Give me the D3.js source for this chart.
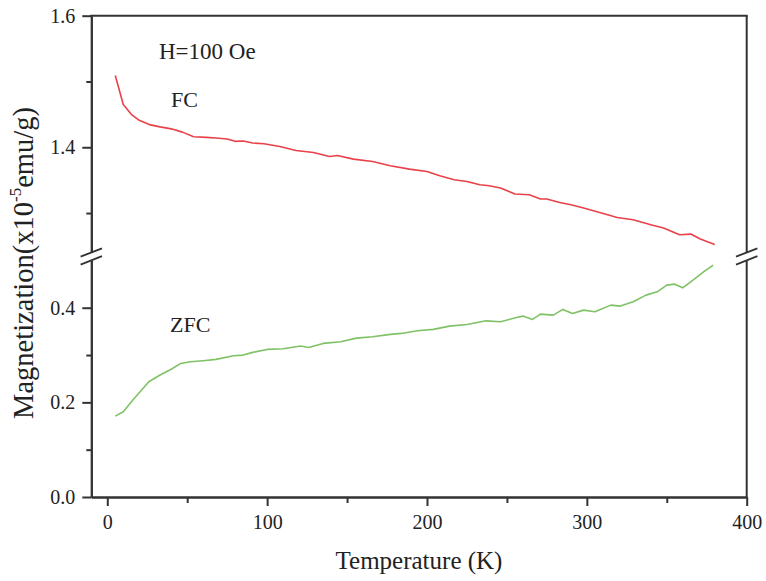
<!DOCTYPE html>
<html>
<head>
<meta charset="utf-8">
<script src="https://cdn.jsdelivr.net/npm/d3@7"></script>
<style>
  html, body { margin: 0; padding: 0; background: #fff; }
  svg { display: block; }
  text { font-family: "Liberation Serif", "Times New Roman", serif; fill: #222; }
</style>
</head>
<body>
<svg id="chart" width="766" height="581"></svg>
<script>
// ---- Data ----
const fcTemp = [5, 10, 15, 20, 27, 33, 40, 47, 54, 62, 68, 75, 80, 85, 91, 98, 108, 118, 129, 139, 144, 154, 166, 177, 189, 200, 208, 217, 225, 233, 239, 246, 255, 264, 271, 275, 283, 290, 298, 308, 319, 329, 340, 348, 358, 365, 371, 380];
const fcMag  = [1.509, 1.465, 1.450, 1.441, 1.434, 1.431, 1.428, 1.423, 1.416, 1.415, 1.414, 1.4125, 1.409, 1.4094, 1.4064, 1.4053, 1.4012, 1.395, 1.392, 1.386, 1.3875, 1.382, 1.3784, 1.372, 1.3668, 1.3632, 1.3567, 1.3506, 1.348, 1.343, 1.3415, 1.338, 1.3289, 1.3278, 1.3213, 1.3213, 1.316, 1.3126, 1.3076, 1.3009, 1.2933, 1.2898, 1.2822, 1.2772, 1.267, 1.268, 1.2605, 1.252];

const zfcTemp = [5, 10, 16, 26, 33, 40, 46, 52, 60, 68, 79, 85, 91, 100, 110, 121, 126, 135, 146, 156, 166, 177, 184, 194, 204, 214, 225, 237, 246, 256, 260, 266, 271, 279, 285, 291, 298, 305, 315, 321, 329, 337, 344, 350, 355, 360, 367, 373, 379];
const zfcMag  = [0.171, 0.180, 0.205, 0.2435, 0.2577, 0.270, 0.2823, 0.2857, 0.288, 0.2908, 0.2985, 0.2999, 0.3056, 0.3119, 0.3133, 0.319, 0.3161, 0.3246, 0.328, 0.3358, 0.3386, 0.3436, 0.3457, 0.3512, 0.3542, 0.3611, 0.3647, 0.3723, 0.3702, 0.3795, 0.3823, 0.3753, 0.3865, 0.3844, 0.3964, 0.388, 0.3949, 0.3914, 0.4055, 0.4034, 0.4125, 0.4266, 0.4336, 0.4477, 0.4498, 0.442, 0.4598, 0.4758, 0.49];

const xTicksMajor = [0, 100, 200, 300, 400];
const xTicksMinor = [50, 150, 250, 350];
const yTopMajor = [1.4, 1.6];
const yTopMinor = [1.3, 1.5];
const yBotMajor = [0.0, 0.2, 0.4];
const yBotMinor = [0.1, 0.3];

// ---- Layout ----
const svg = d3.select("#chart");
const axisColor = "#333";
const x = d3.scaleLinear().domain([-10, 400]).range([91.3, 746.7]);
const yTop = d3.scaleLinear().domain([1.24, 1.6]).range([252.5, 15.7]);
const yBot = d3.scaleLinear().domain([0, 0.5]).range([497, 260.4]);

function styleAxis(g) {
  g.selectAll("path.domain").attr("stroke", axisColor).attr("stroke-width", 2);
  g.selectAll(".tick line").attr("stroke", axisColor).attr("stroke-width", 2);
  g.selectAll(".tick text").style("font-size", "20px").attr("fill", "#222");
}

// X axis (bottom frame)
svg.append("g").attr("transform", `translate(0,${yBot.range()[0]})`)
  .call(d3.axisBottom(x).tickValues(xTicksMinor).tickSize(6).tickSizeOuter(0).tickFormat(""))
  .call(styleAxis);
svg.append("g").attr("transform", `translate(0,${yBot.range()[0]})`)
  .call(d3.axisBottom(x).tickValues(xTicksMajor).tickSize(9).tickSizeOuter(0).tickPadding(9).tickFormat(d3.format("d")))
  .call(styleAxis);

// Left axis: top segment
const xl = x.range()[0], xr = x.range()[1];
svg.append("g").attr("transform", `translate(${xl},0)`)
  .call(d3.axisLeft(yTop).tickValues(yTopMinor).tickSize(5).tickSizeOuter(0).tickFormat(""))
  .call(styleAxis);
svg.append("g").attr("transform", `translate(${xl},0)`)
  .call(d3.axisLeft(yTop).tickValues(yTopMajor).tickSize(9).tickSizeOuter(0).tickPadding(7).tickFormat(d3.format(".1f")))
  .call(styleAxis);
// Left axis: bottom segment
svg.append("g").attr("transform", `translate(${xl},0)`)
  .call(d3.axisLeft(yBot).tickValues(yBotMinor).tickSize(5).tickSizeOuter(0).tickFormat(""))
  .call(styleAxis);
svg.append("g").attr("transform", `translate(${xl},0)`)
  .call(d3.axisLeft(yBot).tickValues(yBotMajor).tickSize(9).tickSizeOuter(0).tickPadding(7).tickFormat(d3.format(".1f")))
  .call(styleAxis);

// Right frame segments and top frame
const frame = svg.append("g").attr("stroke", axisColor).attr("stroke-width", 2).attr("fill", "none");
frame.append("line").attr("x1", xl - 1).attr("x2", xr + 1).attr("y1", yTop.range()[1]).attr("y2", yTop.range()[1]);
frame.append("line").attr("x1", xr).attr("x2", xr).attr("y1", yTop.range()[1]).attr("y2", yTop.range()[0]);
frame.append("line").attr("x1", xr).attr("x2", xr).attr("y1", yBot.range()[1]).attr("y2", yBot.range()[0]);

// Break marks
[xl, xr].forEach(ax => {
  [yTop.range()[0], yBot.range()[1]].forEach(by => {
    frame.append("line")
      .attr("x1", ax - 10.7).attr("y1", by + 4.2)
      .attr("x2", ax + 10.7).attr("y2", by - 4.2)
      .attr("stroke-width", 1.8);
  });
});

// Lines
const fcData = fcTemp.map((t, i) => [t, fcMag[i]]);
const zfcData = zfcTemp.map((t, i) => [t, zfcMag[i]]);
svg.append("path").datum(fcData)
  .attr("fill", "none").attr("stroke", "#e8414a").attr("stroke-width", 1.6).attr("stroke-linejoin", "round")
  .attr("d", d3.line().x(d => x(d[0])).y(d => yTop(d[1])));
svg.append("path").datum(zfcData)
  .attr("fill", "none").attr("stroke", "#7fc265").attr("stroke-width", 1.6).attr("stroke-linejoin", "round")
  .attr("d", d3.line().x(d => x(d[0])).y(d => yBot(d[1])));

// Annotations
svg.append("text").attr("x", 159).attr("y", 59).style("font-size", "23px").text("H=100 Oe");
svg.append("text").attr("x", 171).attr("y", 107).style("font-size", "22px").text("FC");
svg.append("text").attr("x", 170).attr("y", 332).style("font-size", "22px").text("ZFC");

// Axis titles
svg.append("text").attr("x", (xl + xr) / 2).attr("y", 569).attr("text-anchor", "middle")
  .style("font-size", "25px").text("Temperature (K)");

const yt = svg.append("text")
  .attr("transform", `translate(33,263) rotate(-90)`)
  .attr("text-anchor", "middle").style("font-size", "28.5px");
yt.append("tspan").text("Magnetization(x10");
yt.append("tspan").attr("dy", -12).style("font-size", "17px").text("-5");
yt.append("tspan").attr("dy", 12).text("emu/g)");
</script>
</body>
</html>
